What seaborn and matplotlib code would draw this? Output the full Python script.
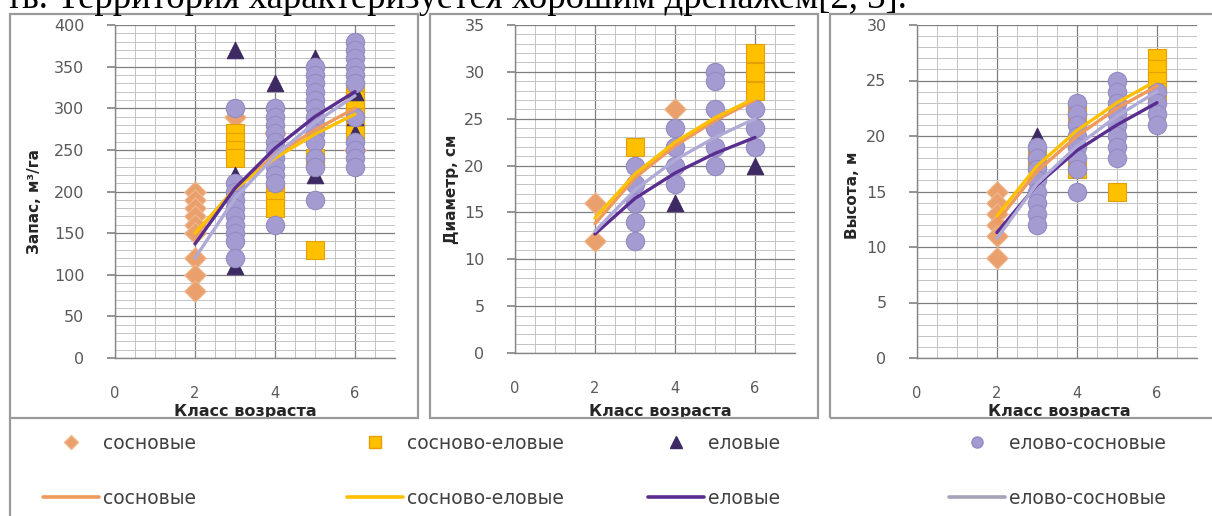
import numpy as np
import pandas as pd
import seaborn as sns
import matplotlib.pyplot as plt
from matplotlib.lines import Line2D
from matplotlib.patches import Rectangle
from matplotlib.ticker import MultipleLocator, FixedLocator

# ---------------------------------------------------------------------------
# Data: measured values per age class (Класс возраста) for each forest type
# ---------------------------------------------------------------------------
SERIES = ["сосновые", "сосново-еловые", "еловые", "елово-сосновые"]
CLASSES = [2, 3, 4, 5, 6]

# Запас, м³/га
stock_pine = {2: [200, 190, 180, 170, 160, 150, 120, 100, 80], 3: [290], 4: [270], 6: [250]}
stock_pine_spruce = {3: [270, 260, 250, 240], 4: [200, 190, 180], 5: [240, 130],
                     6: [320, 310, 300, 290, 280, 270]}
stock_spruce = {3: [370, 220, 110], 4: [330, 290], 5: [360, 250, 220], 6: [320, 290, 270]}
stock_spruce_pine = {3: [300, 210, 200, 190, 180, 170, 160, 150, 140, 120],
                     4: [300, 290, 280, 270, 260, 250, 240, 230, 220, 210, 160],
                     5: [350, 340, 330, 320, 310, 300, 290, 280, 270, 260, 240, 230, 190],
                     6: [380, 370, 360, 350, 340, 330, 290, 260, 250, 240, 230]}
stock_trend_pine = [148, 204, 244, 274, 300]
stock_trend_pine_spruce = [150, 203, 240, 269, 293]
stock_trend_spruce = [137, 204, 252, 290, 320]
stock_trend_spruce_pine = [120, 192, 243, 283, 315]

# Диаметр, см
diam_pine = {2: [16, 12], 4: [26]}
diam_pine_spruce = {3: [22], 6: [32, 30, 28]}
diam_spruce = {4: [16], 6: [20]}
diam_spruce_pine = {3: [20, 18, 16, 14, 12], 4: [24, 22, 20, 18],
                    5: [30, 29, 26, 24, 22, 20], 6: [26, 24, 22]}
diam_trend_pine = [13.8, 18.7, 22.1, 24.8, 27.0]
diam_trend_pine_spruce = [14.4, 19.1, 22.5, 25.1, 27.2]
diam_trend_spruce = [12.7, 16.5, 19.2, 21.3, 23.0]
diam_trend_spruce_pine = [13.0, 17.4, 20.6, 23.0, 25.0]

# Высота, м
height_pine = {2: [15, 14, 13, 12, 11, 9]}
height_pine_spruce = {3: [18], 4: [22, 17], 5: [15], 6: [27, 26, 25, 24]}
height_spruce = {3: [20], 4: [22, 18], 5: [24, 20], 6: [23]}
height_spruce_pine = {3: [19, 18, 17, 16, 15, 14, 13, 12],
                      4: [23, 22, 21, 20, 19, 18, 17, 15],
                      5: [25, 24, 23, 22, 21, 20, 19, 18], 6: [24, 23, 22, 21]}
height_trend_pine = [12.3, 16.8, 20.0, 22.5, 24.5]
height_trend_pine_spruce = [12.8, 17.3, 20.5, 23.0, 25.0]
height_trend_spruce = [11.3, 15.6, 18.7, 21.0, 23.0]
height_trend_spruce_pine = [10.8, 15.7, 19.1, 21.8, 24.0]

# ---------------------------------------------------------------------------
# Styling
# ---------------------------------------------------------------------------
MARKERS = ["D", "s", "^", "o"]
SIZES = [120, 160, 140, 175]
FILL = ["#E9A06C", "#FFC000", "#3E2A63", "#A49BD1"]
EDGE = ["#F0B88C", "#E3A000", "#3E2A63", "#938BC2"]
LINE = ["#EE9A5A", "#FFC000", "#5A2D91", "#B0AAD8"]

sns.set_theme(style="white")
plt.rcParams["font.family"] = ["DejaVu Sans"]

W, H = 1212, 516
fig = plt.figure(figsize=(W / 100, H / 100), dpi=100)
fig.patch.set_facecolor("white")


def add_axes_px(left, right, bottom, top):
    return fig.add_axes([left / W, 1 - bottom / H, (right - left) / W, (bottom - top) / H])


def to_frame(points):
    rows = [(c, v) for c, vals in points.items() for v in vals]
    return pd.DataFrame(rows, columns=["klass", "value"])


def draw_panel(ax, point_sets, trend_sets, ymax, ymajor, yminor, ylabel, ylab_pos, xlab_pos):
    for i, pts in enumerate(point_sets):
        df = to_frame(pts)
        sns.scatterplot(data=df, x="klass", y="value", marker=MARKERS[i], s=SIZES[i],
                        color=FILL[i], edgecolor=EDGE[i], linewidth=0.8, ax=ax,
                        legend=False, zorder=3)
    for i, tr in enumerate(trend_sets):
        sns.lineplot(x=CLASSES, y=tr, color=LINE[i], lw=2.4, ax=ax, zorder=4)

    ax.set_xlim(0, 7)
    ax.set_ylim(0, ymax)
    ax.xaxis.set_major_locator(MultipleLocator(2))
    ax.xaxis.set_minor_locator(FixedLocator(np.arange(0.5, 7.0, 0.5)))
    ax.yaxis.set_major_locator(MultipleLocator(ymajor))
    ax.yaxis.set_minor_locator(MultipleLocator(yminor))
    ax.grid(which="major", color="#7F7F7F", lw=0.9)
    ax.grid(which="minor", color="#C4C4C4", lw=0.7)
    ax.set_axisbelow(True)
    for s in ["top", "right"]:
        ax.spines[s].set_visible(False)
    for s in ["left", "bottom"]:
        ax.spines[s].set_color("#868686")
        ax.spines[s].set_linewidth(1.0)
    ax.tick_params(axis="y", which="major", left=True, length=6, color="#868686",
                   direction="out", pad=16, labelsize=11.5, labelcolor="#595959")
    ax.tick_params(axis="y", which="minor", left=False, length=0)
    ax.tick_params(axis="x", which="both", bottom=False, length=0, pad=20,
                   labelsize=10.5, labelcolor="#595959")

    ax.set_ylabel(ylabel, fontsize=11, fontweight="bold", color="#262626")
    ax.yaxis.set_label_coords(*ylab_pos)
    ax.set_xlabel("Класс возраста", fontsize=11.5, fontweight="bold", color="#262626")
    ax.xaxis.set_label_coords(*xlab_pos)
    ax.xaxis.label.set_verticalalignment("center")


# panel frames
for x0, x1 in [(10, 418), (430, 818), (830, 1214)]:
    fig.patches.append(Rectangle((x0 / W, 1 - 418 / H), (x1 - x0) / W, (418 - 14) / H,
                                 transform=fig.transFigure, fill=False,
                                 edgecolor="#9A9A9A", lw=1.6, zorder=0))
fig.add_artist(Line2D([10 / W, 10 / W], [0, 1 - 418 / H], transform=fig.transFigure,
                      color="#9A9A9A", lw=1.6))

ax1 = add_axes_px(115, 395, 358, 25)
draw_panel(ax1,
           [stock_pine, stock_pine_spruce, stock_spruce, stock_spruce_pine],
           [stock_trend_pine, stock_trend_pine_spruce, stock_trend_spruce, stock_trend_spruce_pine],
           400, 50, 10, "Запас, м³/га", (-0.26, 0.47), (0.465, -0.16))

ax2 = add_axes_px(515, 795, 353, 25)
draw_panel(ax2,
           [diam_pine, diam_pine_spruce, diam_spruce, diam_spruce_pine],
           [diam_trend_pine, diam_trend_pine_spruce, diam_trend_spruce, diam_trend_spruce_pine],
           35, 5, 1, "Диаметр, см", (-0.2, 0.5), (0.52, -0.178))

ax3 = add_axes_px(917, 1197, 358, 25)
draw_panel(ax3,
           [height_pine, height_pine_spruce, height_spruce, height_spruce_pine],
           [height_trend_pine, height_trend_pine_spruce, height_trend_spruce, height_trend_spruce_pine],
           30, 5, 1, "Высота, м", (-0.205, 0.49), (0.51, -0.16))

# shared legend: markers on the first row, trend lines on the second
for i, x0 in enumerate([43, 347, 648, 949]):
    mh = Line2D([], [], ls="none", marker=MARKERS[i], markersize=8 if i != 0 else 7,
                markerfacecolor=FILL[i], markeredgecolor=EDGE[i])
    lh = Line2D([], [], color=LINE[i] if i != 3 else "#A6A3B8", lw=2.6)
    fig.legend(handles=[mh, lh], labels=[SERIES[i], SERIES[i]], loc="upper left",
               bbox_to_anchor=(x0 / W, 1 - 434 / H), bbox_transform=fig.transFigure,
               frameon=False, borderaxespad=0, borderpad=0, handlelength=3.0,
               handletextpad=0.2, labelspacing=1.9, fontsize=13.5, labelcolor="#404040")

# running text above the figure
fig.text(6 / W, 1 - 8 / H, "ть. Территория характеризуется хорошим дренажем[2, 3].",
         family=["Liberation Serif", "DejaVu Serif"], fontsize=26.5, color="black",
         ha="left", va="baseline")

fig.savefig("out.png", dpi=100, facecolor="white")
